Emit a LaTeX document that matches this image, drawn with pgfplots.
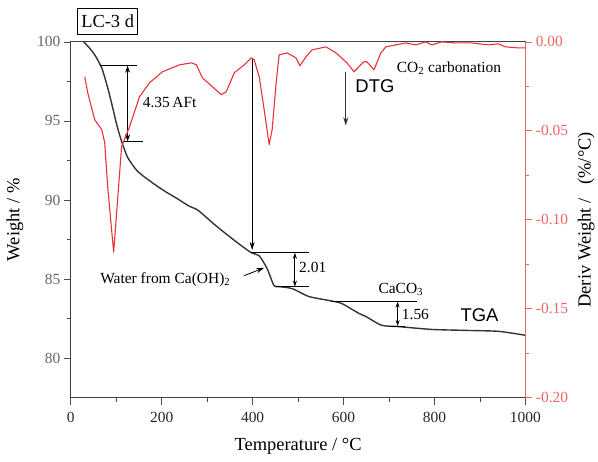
\documentclass[border=0pt]{standalone}
\usepackage{pgfplots}
\pgfplotsset{compat=1.18}
\usepackage{fontspec}
\setmainfont{Liberation Serif}
\newfontfamily\arial{Liberation Sans}
\usetikzlibrary{arrows.meta}
\definecolor{tga}{HTML}{333333}
\definecolor{dtg}{HTML}{E8323A}
\definecolor{raxis}{HTML}{F06464}
\pgfplotsset{
  /pgf/number format/assume math mode=true,
  /pgf/number format/1000 sep={},
}
\begin{document}
\begin{tikzpicture}
\begin{axis}[
  scale only axis, width=456pt, height=357pt,
  xmin=0, xmax=1000, ymin=77.5, ymax=100,
  xtick={0,200,400,600,800,1000}, minor x tick num=1,
  ytick={80,85,90,95,100}, minor y tick num=1,
  xtick pos=bottom, ytick pos=left, tick align=outside,
  major tick length=7pt, minor tick length=4pt,
  tick style={black!70, line width=0.7pt},
  tick label style={font=\fontsize{15.5}{18}\selectfont},
  xticklabel style={text=black!85, yshift=-4pt},
  yticklabel style={text=black!60},
  xlabel={Temperature / °C}, ylabel={Weight / \%},
  label style={font=\fontsize{18.5}{22}\selectfont},
  xlabel style={at={(axis description cs:0.5,-0.137)}, anchor=center},
  ylabel style={at={(axis description cs:-0.123,0.5)}, anchor=center},
  axis line style={black!75, line width=0.8pt},
  clip=false,
]
\addplot[tga, line width=1.4pt, smooth, tension=0.4] coordinates {
(28.5,100.0) (40,99.65) (52.6,99.18) (68.0,98.36) (81.1,97.11) (92.1,95.85)
(100.9,94.78) (111.8,93.71) (125.0,92.70) (146.9,91.82) (177.6,91.13)
(206.1,90.57) (232.5,90.12) (260.0,89.62)
(280,89.35) (320,88.36) (364,87.36) (397,86.67) (414.5,86.48) (432,85.66)
(447,84.59) (458,84.53) (487,84.40) (524,83.90) (568,83.65) (596,83.46)
(634,82.83) (649,82.64) (684,82.08) (721,82.00) (794,81.82) (868,81.76)
(941,81.70) (1000,81.45)
};
% 4.35 AFt
\draw[black, line width=0.8pt] (axis cs:63.6,98.49) -- (axis cs:144.7,98.49);
\draw[black, line width=0.8pt] (axis cs:114,93.71) -- (axis cs:158,93.71);
\draw[black, line width=0.8pt, {Stealth[length=7pt,width=5pt]}-{Stealth[length=7pt,width=5pt]}] (axis cs:125,98.49) -- (axis cs:125,93.71);
\node[anchor=west, font=\fontsize{15.5}{18}\selectfont, inner sep=0pt] at (axis cs:158,96.16) {4.35\,AFt};
% long arrow
\draw[black, line width=0.8pt, -{Stealth[length=8pt,width=5pt]}] (axis cs:399,98.99) -- (axis cs:399,86.85);
% 2.01
\draw[black, line width=0.8pt] (axis cs:397,86.67) -- (axis cs:524,86.67);
\draw[black, line width=0.8pt] (axis cs:452,84.53) -- (axis cs:524,84.53);
\draw[black, line width=0.8pt, {Stealth[length=6pt,width=4pt]}-{Stealth[length=6pt,width=4pt]}] (axis cs:493,86.67) -- (axis cs:493,84.53);
\node[anchor=west, font=\fontsize{15.5}{18}\selectfont, inner sep=0pt] at (axis cs:502,85.72) {2.01};
% Water from Ca(OH)2
\node[anchor=center, font=\fontsize{15.5}{18}\selectfont, inner sep=0pt] at (axis cs:208,84.97) {Water from Ca(OH)\textsubscript{2}};
\draw[black, line width=0.8pt, -{Stealth[length=8pt,width=5pt]}] (axis cs:381.6,85.22) -- (axis cs:425.4,85.72);
% CaCO3
\draw[black, line width=0.8pt] (axis cs:572,83.58) -- (axis cs:761,83.58);
\draw[black, line width=0.8pt] (axis cs:702,82.04) -- (axis cs:736,82.04);
\draw[black, line width=0.8pt, {Stealth[length=6pt,width=4pt]}-{Stealth[length=6pt,width=4pt]}] (axis cs:719,83.58) -- (axis cs:719,82.04);
\node[anchor=west, font=\fontsize{15.5}{18}\selectfont, inner sep=0pt] at (axis cs:728,82.77) {1.56};
\node[anchor=center, font=\fontsize{15.5}{18}\selectfont, inner sep=0pt] at (axis cs:726,84.34) {CaCO\textsubscript{3}};
% TGA / DTG labels
\node[anchor=center, font=\arial\fontsize{18.5}{22}\selectfont, inner sep=0pt] at (axis cs:899,82.70) {TGA};
\node[anchor=center, font=\arial\fontsize{18.5}{22}\selectfont, inner sep=0pt] at (axis cs:669,97.17) {DTG};
\draw[black!80, line width=0.8pt, -{Stealth[length=8pt,width=5pt]}] (axis cs:605,98.11) -- (axis cs:605,94.72);
\node[anchor=base west, font=\fontsize{15.5}{18}\selectfont, inner sep=0pt] at (axis cs:717,98.07) {CO\textsubscript{2} carbonation};
% LC-3 d box
\node[draw=black, line width=0.8pt, anchor=center, minimum width=60pt, minimum height=26pt, inner sep=2pt, font=\fontsize{18.5}{22}\selectfont] at (axis cs:81.1,101.32) {LC-3 d};
% bounding box
\path (rel axis cs:0,0) ++(-71pt,-64pt) coordinate (bbsw);
\path (rel axis cs:1,1) ++(71pt,42pt) coordinate (bbne);
\path (bbsw) rectangle (bbne);
\end{axis}
\begin{axis}[
  scale only axis, width=456pt, height=357pt,
  xmin=0, xmax=1000, ymin=-0.2, ymax=0,
  axis x line=none, axis y line*=right,
  ytick={-0.2,-0.15,-0.1,-0.05,0}, minor y tick num=1, tick align=outside,
  major tick length=7pt, minor tick length=4pt,
  tick style={raxis, line width=0.7pt},
  y axis line style={raxis, line width=0.8pt},
  yticklabel style={text=raxis, font=\fontsize{15.5}{18}\selectfont,
    /pgf/number format/fixed, /pgf/number format/fixed zerofill,
    /pgf/number format/precision=2},
  ylabel={Deriv Weight /\ \ \ (\%/°C)},
  ylabel style={font=\fontsize{18.5}{22}\selectfont, at={(axis description cs:1.134,0.5)}, anchor=center},
]
\addplot[dtg, line width=1.1pt, line join=round] coordinates {
(30.7,-0.0196) (37.3,-0.0286) (52.6,-0.0437) (68.0,-0.0493) (74.6,-0.0566)
(81.1,-0.0812) (94.3,-0.1182) (103.1,-0.0885) (111.8,-0.0588) (129.4,-0.0476)
(151.3,-0.0308) (173.2,-0.0230) (201.8,-0.0168) (239.0,-0.0129) (265.4,-0.0118)
(276.3,-0.0129) (289.5,-0.0202) (311.4,-0.0252) (331.1,-0.0297) (342.1,-0.0280)
(359.6,-0.0174) (381.6,-0.0129) (396.9,-0.0090) (403.5,-0.0101) (414.5,-0.0196)
(425.4,-0.0381) (436.4,-0.0577) (443.0,-0.0493) (451.8,-0.0230) (458.3,-0.0073)
(475.9,-0.0062) (495.6,-0.0090) (504.0,-0.0134) (517.5,-0.0084) (530.7,-0.0045)
(561.4,-0.0028) (583.3,-0.0062) (607.5,-0.0118) (623.0,-0.0168) (644.7,-0.0112)
(651.3,-0.0112) (667.0,-0.0157) (682.0,-0.0062) (693.0,-0.0028) (714.9,-0.0017)
(736.8,-0.0006) (758.8,-0.0017) (780.7,0.0) (793.9,-0.0017) (815.8,0.0)
(846.5,-0.0006) (881.6,-0.0006) (918.9,-0.0017) (940.8,-0.0011) (956.1,-0.0028)
(984.6,-0.0034) (1000,-0.0034)
};
\end{axis}
\end{tikzpicture}
\end{document}
